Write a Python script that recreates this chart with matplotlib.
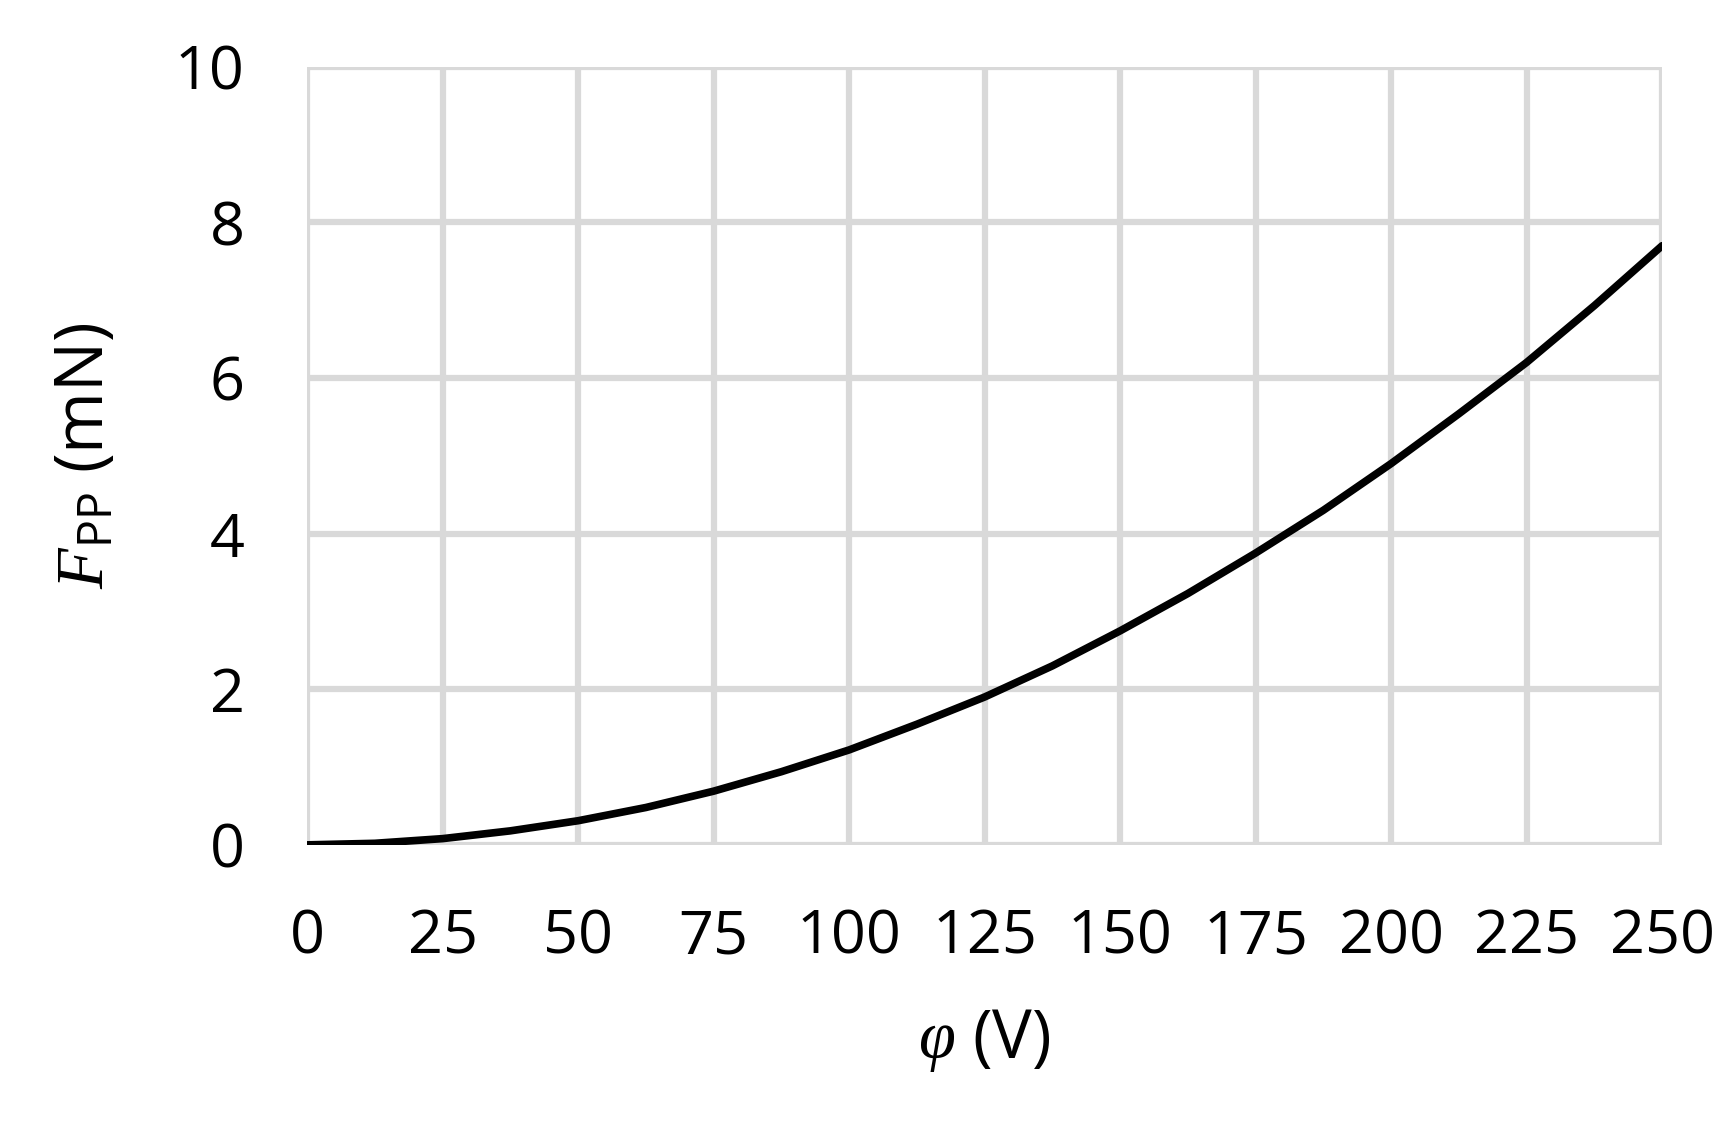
import matplotlib.pyplot as plt

# values
phi_V = [0, 12.5, 25, 37.5, 50, 62.5, 75, 87.5, 100, 112.5, 125, 137.5,
         150, 162.5, 175, 187.5, 200, 212.5, 225, 237.5, 250]
force_mN = [0, 0.02, 0.08, 0.18, 0.31, 0.48, 0.69, 0.94, 1.22, 1.55, 1.9,
            2.3, 2.75, 3.23, 3.75, 4.3, 4.9, 5.54, 6.2, 6.93, 7.7]
x_ticks = list(range(0, 251, 25))
y_ticks = list(range(0, 11, 2))

plt.rcParams['font.family'] = ['Open Sans', 'DejaVu Sans']
plt.rcParams['mathtext.fontset'] = 'custom'
plt.rcParams['mathtext.it'] = 'Liberation Serif:italic'
plt.rcParams['mathtext.rm'] = 'Open Sans'

fig = plt.figure(figsize=(17.35, 11.31), dpi=100)
ax = fig.add_axes([0.177, 0.253, 0.781, 0.688])

ax.plot(phi_V, force_mN, color="black", lw=5.5, solid_capstyle="round")

ax.set_xlim(0, 250)
ax.set_ylim(0, 10)
ax.set_xticks(x_ticks)
ax.set_yticks(y_ticks)
ax.grid(True, color="#d9d9d9", lw=4.5)
ax.set_axisbelow(True)
for sp in ax.spines.values():
    sp.set_visible(False)
ax.tick_params(axis="x", length=0, labelsize=44, pad=45)
ax.tick_params(axis="y", length=0, labelsize=44, pad=45)

ax.set_xlabel(r"$\varphi$ (V)", fontsize=48, labelpad=28)
ax.set_ylabel(r"$F_{\mathrm{PP}}$ (mN)", fontsize=48, labelpad=40)

fig.savefig("out.png", dpi=100)
